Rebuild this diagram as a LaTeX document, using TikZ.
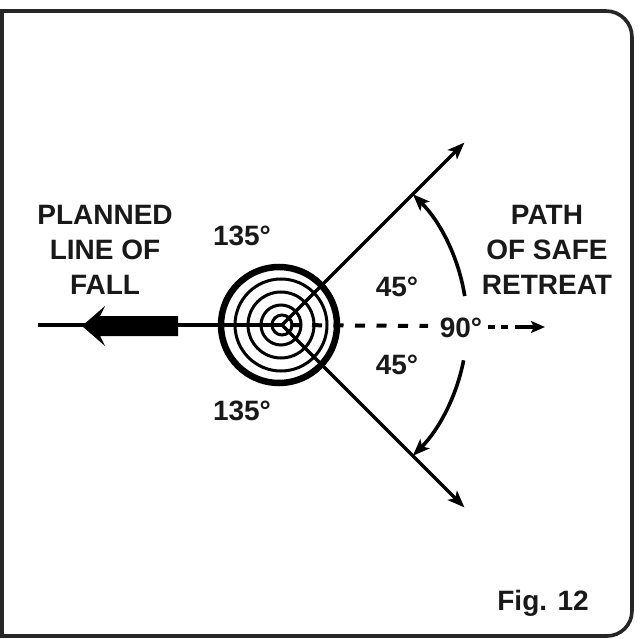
\documentclass[tikz,border=0pt]{standalone}
\usepackage{fontspec}
\setmainfont{Liberation Sans}
\usetikzlibrary{arrows.meta,calc}
\begin{document}
\begin{tikzpicture}[x=1pt,y=-1pt,
  lab/.style={font=\fontsize{28}{35}\selectfont\bfseries, align=center, inner sep=0pt, text=black!90},
  ray/.style={line width=3.4pt, -{Stealth[length=17pt,width=13pt,inset=4pt]}},
  swing/.style={line width=3.6pt, -{Stealth[length=17pt,width=13pt,inset=4pt]}},
  ring/.style={line width=3pt},
  dsh/.style={line width=4pt, dash pattern=on 10pt off 11.5pt, dash phase=13pt}]
\useasboundingbox (0,0) rectangle (640,639);
\fill[white] (0,0) rectangle (640,639);
% frame
\draw[line width=3.6pt, black!85] (2,11) -- (606,11) arc[start angle=-90, end angle=0, radius=26] -- (632,611) arc[start angle=0, end angle=90, radius=25] -- (2,636) -- cycle;
% key points
\coordinate (V) at (282,325);
\coordinate (C) at (279,325);
\path (V) ++(-45:258) coordinate (UP);
\path (V) ++(45:258) coordinate (DN);
\coordinate (L) at (38,325);
% tree rings
\draw[line width=6.5pt] (C) circle[radius=58];
\draw[ring] (281,325) circle[radius=46];
\draw[ring] (281,325) circle[radius=33];
\draw[ring] (281,325) circle[radius=20];
\draw[ring] (282,325) circle[radius=10];
% planned line of fall
\draw[line width=3.2pt] (L) -- (V);
\fill (82,326) -- (105,306) -- (100,316) -- (178,316) -- (178,336) -- (100,336) -- (105,346) -- cycle;
% retreat rays
\draw[ray] (V) -- (UP);
\draw[ray] (V) -- (DN);
% dashed retreat path
\coordinate (D1) at (428,326);
\coordinate (D2) at (488,327);
\coordinate (D3) at (510,327);
\coordinate (D4) at (545,327);
\draw[dsh] (V) -- (D1);
\draw[line width=4pt, dash pattern=on 7pt off 6pt] (D2) -- (D3);
\draw[line width=4pt, -{Stealth[length=14pt,width=12pt,inset=3pt]}] ($(D3)+(5,0)$) -- (D4);
% angle arcs
\draw[swing] ($(V)+(-9:185)$) arc[start angle=-9, end angle=-45, radius=185];
\draw[swing] ($(V)+(11:185)$) arc[start angle=11, end angle=45, radius=185];
% labels
\node[lab] (fall) at (105,250) {PLANNED\\LINE OF\\FALL};
\node[lab] (safe) at (547,250) {PATH\\OF SAFE\\RETREAT};
\node[lab] (a1) at (242,236) {135°};
\node[lab] (a2) at (242,411) {135°};
\node[lab] (a3) at (397,287) {45°};
\node[lab] (a4) at (397,365) {45°};
\node[lab] (a5) at (461,328) {90°};
\node[lab] (fig) at (543,603) {Fig. 12};
\end{tikzpicture}
\end{document}
